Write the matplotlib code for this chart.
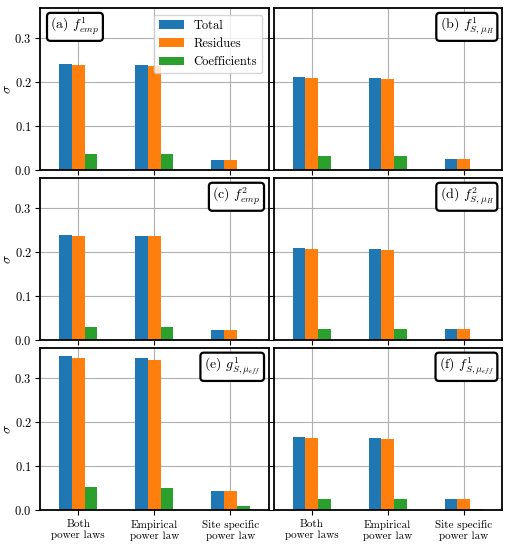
import matplotlib
matplotlib.use("Agg")
import matplotlib.pyplot as plt
import numpy as np

plt.rcParams['font.family'] = ['cmr10', 'DejaVu Serif']
plt.rcParams['mathtext.fontset'] = 'cm'
plt.rcParams['axes.formatter.use_mathtext'] = True
plt.rcParams['axes.unicode_minus'] = False
plt.rcParams['font.size'] = 9

categories = ["Both\npower laws", "Empirical\npower law", "Site specific\npower law"]
series = ["Total", "Residues", "Coefficients"]
colors = ["#1f77b4", "#ff7f0e", "#2ca02c"]

panel_labels = [r"(a) $f^1_{emp}$", r"(b) $f^1_{S,\mu_H}$",
                r"(c) $f^2_{emp}$", r"(d) $f^2_{S,\mu_H}$",
                r"(e) $g^1_{S,\mu_{eff}}$", r"(f) $f^1_{S,\mu_{eff}}$"]

# rows: Total, Residues, Coefficients; columns: categories
sigma_a = [[0.241, 0.240, 0.023], [0.238, 0.237, 0.023], [0.036, 0.036, 0.001]]
sigma_b = [[0.211, 0.210, 0.025], [0.209, 0.207, 0.025], [0.032, 0.032, 0.001]]
sigma_c = [[0.239, 0.237, 0.023], [0.236, 0.236, 0.023], [0.029, 0.029, 0.002]]
sigma_d = [[0.209, 0.207, 0.025], [0.207, 0.205, 0.025], [0.025, 0.025, 0.001]]
sigma_e = [[0.351, 0.346, 0.042], [0.346, 0.341, 0.042], [0.051, 0.050, 0.008]]
sigma_f = [[0.166, 0.163, 0.025], [0.163, 0.160, 0.025], [0.024, 0.024, 0.001]]
panels = [sigma_a, sigma_b, sigma_c, sigma_d, sigma_e, sigma_f]

fig, axes = plt.subplots(3, 2, sharex=True, sharey=True, figsize=(5.09, 5.5), dpi=100)
fig.subplots_adjust(left=0.079, right=0.986, top=0.985, bottom=0.073, wspace=0.022, hspace=0.05)

x = np.arange(len(categories))
w = 0.5 / 3
for i, ax in enumerate(axes.flat):
    data = panels[i]
    for j, name in enumerate(series):
        ax.bar(x + (j - 1) * w, data[j], w, color=colors[j], label=name, zorder=2)
    ax.set_axisbelow(True)
    ax.grid(True, color="#b0b0b0", linewidth=0.8)
    for s in ax.spines.values():
        s.set_linewidth(1.3)
        s.set_color("black")
    ax.set_xlim(-0.5, 2.5)
    ax.set_ylim(0, 0.368)
    ax.set_yticks([0.0, 0.1, 0.2, 0.3])
    ax.set_xticks(x)
    ax.set_xticklabels(categories, fontsize=8)
    ax.tick_params(axis="y", labelsize=9, pad=2.5)
    if i == 0:
        ax.text(0.045, 0.95, panel_labels[i], transform=ax.transAxes, fontsize=10,
                ha="left", va="top", zorder=5,
                bbox=dict(boxstyle="round,pad=0.25", fc="white", ec="black", lw=1.6))
    else:
        ax.text(0.965, 0.95, panel_labels[i], transform=ax.transAxes, fontsize=10,
                ha="right", va="top", zorder=5,
                bbox=dict(boxstyle="round,pad=0.25", fc="white", ec="black", lw=1.6))

for ax in axes[:, 0]:
    ax.set_ylabel(r"$\sigma$", fontsize=10)
    ax.yaxis.set_label_coords(-0.115, 0.5)

axes[0, 0].legend(loc="upper right", fontsize=9)

plt.savefig("out.png", dpi=100)
